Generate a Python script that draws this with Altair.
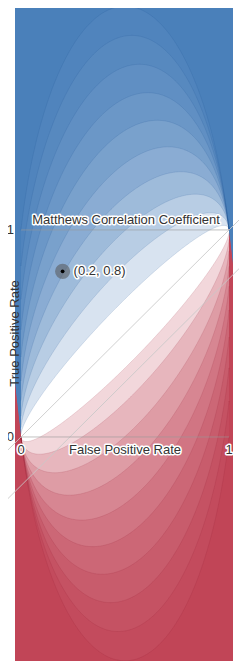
import numpy as np
import pandas as pd
import altair as alt

# ---------------- data ----------------
levels = [0.1, 0.2, 0.3, 0.4, 0.5, 0.6, 0.7, 0.8, 0.9, 1.0]   # |MCC| contour levels
neg_to_pos_ratio = 9                                              # N / P
blue_colors = ["#d8e3f0", "#b8cde4", "#9ebbda", "#8aacd3", "#79a1cc",
               "#6b97c7", "#608fc3", "#5789bf", "#5084bd", "#4a80ba"]
red_colors = ["#f2d7db", "#e7b6bd", "#de9ca5", "#d78692", "#d17583",
              "#cc6776", "#c85c6c", "#c55263", "#c34b5d", "#c14557"]
diag_offsets = [0.0, -0.235]          # faint 45-degree guide lines y = x + b
point_x = [0.2]
point_y = [0.8]
point_label = ["(0.2, 0.8)"]
tick_values = [0, 1]
tick_labels = ["0", "1"]
x_title = "False Positive Rate"
y_title = "True Positive Rate"
mcc_title = "Matthews Correlation Coefficient"

X_DOM = [-0.0288, 1.019]
Y_DOM = [-1.082, 2.072]
W, H = 218, 653


def contour_pair(c, x, k=neg_to_pos_ratio):
    """MCC = +c (upper root) and MCC = -c (lower root) in ROC space with N/P = k.
    Outside 0 <= FPR <= 1 the field is undefined beyond the line where a marginal
    becomes negative; both curves collapse onto that line there."""
    xc = np.clip(x, 0.0, 1.0)
    T = 1 + k
    A = k + c**2
    B = -2 * k * xc - c**2 * (T - 2 * k * xc)
    C = k * xc**2 - c**2 * k * xc * (T - k * xc)
    disc = np.sqrt(np.maximum(B**2 - 4 * A * C, 0))
    up, lo = (-B + disc) / (2 * A), (-B - disc) / (2 * A)
    edge_left = -k * x
    edge_right = 1 - k * (x - 1)
    up = np.where(x < 0, edge_left, np.where(x > 1, edge_right, up))
    lo = np.where(x < 0, edge_left, np.where(x > 1, edge_right, lo))
    return up, lo


xg = np.unique(np.concatenate([
    np.linspace(X_DOM[0], X_DOM[1], 300),
    np.geomspace(1e-5, 0.08, 60),
    1 - np.geomspace(1e-6, 0.08, 90),
    [0.0, 1.0],
]))
inside = (xg >= 0) & (xg <= 1)

ymin, ymax = Y_DOM[0] - 0.2, Y_DOM[1] + 0.2
band_rows, pos_rows, neg_rows = [], [], []
band_names, band_cols = [], []
for i, c in enumerate(levels):
    up, lo = contour_pair(c, xg)
    band_rows.append(pd.DataFrame({"x": xg, "lo": up, "hi": np.full_like(xg, ymax), "band": f"b{i}"}))
    band_rows.append(pd.DataFrame({"x": xg, "lo": np.full_like(xg, ymin), "hi": lo, "band": f"r{i}"}))
    band_names += [f"b{i}", f"r{i}"]
    band_cols += [blue_colors[i], red_colors[i]]
    pos_rows.append(pd.DataFrame({"x": xg[inside], "y": up[inside], "lvl": f"p{i}"}))
    neg_rows.append(pd.DataFrame({"x": xg[inside], "y": lo[inside], "lvl": f"n{i}"}))
band_df = pd.concat(band_rows, ignore_index=True)
pos_df = pd.concat(pos_rows, ignore_index=True)
neg_df = pd.concat(neg_rows, ignore_index=True)

xs = alt.Scale(domain=X_DOM, nice=False, zero=False)
ys = alt.Scale(domain=Y_DOM, nice=False, zero=False)

bands = alt.Chart(band_df).mark_area(clip=True).encode(
    x=alt.X("x:Q", scale=xs, axis=None),
    y=alt.Y("lo:Q", scale=ys, axis=None),
    y2="hi:Q",
    color=alt.Color("band:N", scale=alt.Scale(domain=band_names, range=band_cols), legend=None),
)

pos_lines = alt.Chart(pos_df).mark_line(clip=True, strokeWidth=0.8, opacity=0.18, color="#1f4e8c").encode(
    x=alt.X("x:Q", scale=xs), y=alt.Y("y:Q", scale=ys), detail="lvl:N")
neg_lines = alt.Chart(neg_df).mark_line(clip=True, strokeWidth=0.8, opacity=0.18, color="#8c1f33").encode(
    x=alt.X("x:Q", scale=xs), y=alt.Y("y:Q", scale=ys), detail="lvl:N")

diag_df = pd.DataFrame({
    "x": [-0.3, 1.3] * len(diag_offsets),
    "y": [v for b in diag_offsets for v in (-0.3 + b, 1.3 + b)],
    "g": [str(b) for b in diag_offsets for _ in (0, 1)],
})
diag = alt.Chart(diag_df).mark_line(color="#c8c8c8", strokeWidth=1, opacity=0.85).encode(
    x=alt.X("x:Q", scale=xs), y=alt.Y("y:Q", scale=ys), detail="g:N"
)

grid_df = pd.DataFrame({"y": tick_values, "x0": [0, 0], "x1": [1, 1]})
grid = alt.Chart(grid_df).mark_rule(color="#999999", opacity=0.6, strokeWidth=1).encode(
    x=alt.X("x0:Q", scale=xs), x2="x1:Q", y=alt.Y("y:Q", scale=ys)
)

pt_df = pd.DataFrame({"x": point_x, "y": point_y, "label": point_label})
halo_pt = alt.Chart(pt_df).mark_circle(size=230, color="#555555", opacity=0.55).encode(
    x=alt.X("x:Q", scale=xs), y=alt.Y("y:Q", scale=ys)
)
core_pt = alt.Chart(pt_df).mark_circle(size=14, color="#000000", opacity=1).encode(
    x=alt.X("x:Q", scale=xs), y=alt.Y("y:Q", scale=ys)
)

FONT = "Liberation Sans"


def halo_text(df, enc, **kw):
    back = alt.Chart(df).mark_text(font=FONT, fontSize=13, stroke="white", strokeWidth=3,
                                   strokeJoin="round", fill="white", **kw).encode(**enc)
    front = alt.Chart(df).mark_text(font=FONT, fontSize=13, fill="#333333", **kw).encode(**enc)
    return back + front


pt_text = halo_text(pt_df, dict(x=alt.X("x:Q", scale=xs), y=alt.Y("y:Q", scale=ys), text="label:N"),
                    align="left", baseline="middle", dx=11)

xt_df = pd.DataFrame({"x": tick_values, "y": [0, 0], "t": tick_labels})
x_ticks = halo_text(xt_df, dict(x=alt.X("x:Q", scale=xs), y=alt.Y("y:Q", scale=ys), text="t:N"),
                    align="center", baseline="middle", dy=13)
yt_df = pd.DataFrame({"y": tick_values, "t": tick_labels})
y_ticks = alt.Chart(yt_df).mark_text(font=FONT, fontSize=13, fill="#333333", align="right",
                                     baseline="middle").encode(
    x=alt.value(-1), y=alt.Y("y:Q", scale=ys), text="t:N")

xtitle_df = pd.DataFrame({"x": [0.5], "y": [0], "t": [x_title]})
x_title_m = halo_text(xtitle_df, dict(x=alt.X("x:Q", scale=xs), y=alt.Y("y:Q", scale=ys), text="t:N"),
                      align="center", baseline="middle", dy=13)
ytitle_df = pd.DataFrame({"y": [0.5], "t": [y_title]})
y_title_m = alt.Chart(ytitle_df).mark_text(font=FONT, fontSize=13, fill="#333333", angle=270,
                                           align="center", baseline="alphabetic").encode(
    x=alt.value(3.5), y=alt.Y("y:Q", scale=ys), text="t:N")

mtitle_df = pd.DataFrame({"x": [0.505], "y": [1], "t": [mcc_title]})
m_title = halo_text(mtitle_df, dict(x=alt.X("x:Q", scale=xs), y=alt.Y("y:Q", scale=ys), text="t:N"),
                    align="center", baseline="middle", dy=-10)

chart = alt.layer(
    bands, pos_lines, neg_lines, diag, grid, halo_pt, core_pt, pt_text,
    x_ticks, y_ticks, x_title_m, y_title_m, m_title
).properties(
    width=W, height=H,
    padding={"left": 7, "top": 0, "right": 6, "bottom": 0},
    autosize=alt.AutoSizeParams(type="none"),
).configure_view(stroke=None)

chart.save("out.html", embed_options={"renderer": "svg", "actions": False})
